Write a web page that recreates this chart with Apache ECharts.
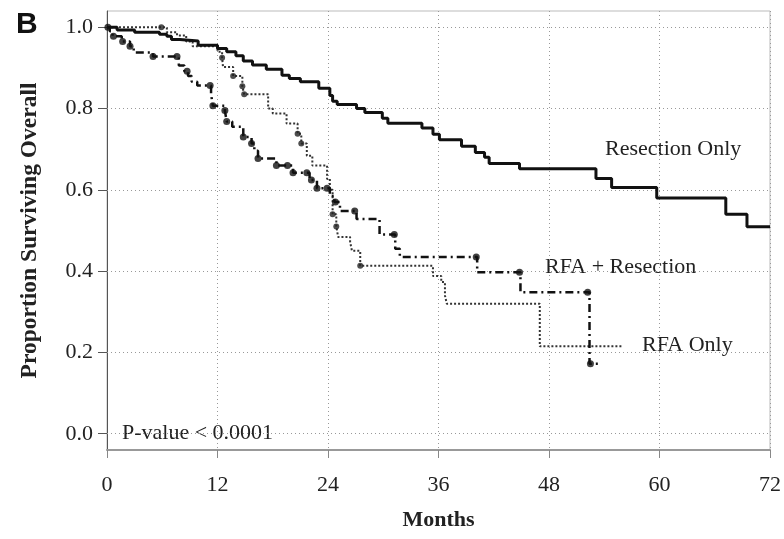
<!DOCTYPE html>
<html>
<head>
<meta charset="utf-8">
<title>Overall survival</title>
<script src="https://cdn.jsdelivr.net/npm/echarts@6/dist/echarts.min.js"></script>
<style>
  html, body { margin: 0; padding: 0; background: #fff; }
  #chart { width: 784px; height: 539px; }
</style>
</head>
<body>
<div id="chart"></div>
<script>
  // x 轴刻度（月）
  const monthTicks = [0, 12, 24, 36, 48, 60, 72]
  // y 轴刻度
  const survTicks = [0, 0.2, 0.4, 0.6, 0.8, 1.0]

  // Kaplan-Meier 曲线：[月, 生存率]
  const resectionOnly = [
    [0, 1.0], [1.1, 0.993], [3.0, 0.988], [5.7, 0.983], [6.5, 0.978], [7.0, 0.970],
    [7.9, 0.966], [9.9, 0.956], [12.0, 0.948], [13.0, 0.940], [14.0, 0.930], [14.8, 0.917],
    [15.8, 0.907], [17.3, 0.897], [19.0, 0.882], [19.8, 0.874], [21.0, 0.866], [23.0, 0.850],
    [24.2, 0.832], [24.5, 0.818], [25.0, 0.810], [27.1, 0.800], [28.0, 0.790], [29.9, 0.776],
    [30.5, 0.764], [34.2, 0.752], [35.4, 0.737], [36.1, 0.723], [38.5, 0.707], [40.0, 0.692],
    [41.0, 0.680], [41.5, 0.665], [44.8, 0.652], [53.1, 0.628], [54.8, 0.606], [59.7, 0.580],
    [67.2, 0.540], [69.5, 0.509], [72, 0.509]
  ]
  const rfaResection = [
    [0, 1.0], [0.3, 0.990], [0.6, 0.978], [1.6, 0.965], [2.5, 0.953], [2.9, 0.938],
    [5.0, 0.928], [7.8, 0.906], [8.4, 0.892], [8.8, 0.880], [9.2, 0.866], [9.8, 0.857],
    [11.3, 0.835], [11.5, 0.807], [12.8, 0.795], [13.0, 0.768], [13.6, 0.755], [14.8, 0.730],
    [15.7, 0.714], [16.0, 0.696], [16.4, 0.677], [18.4, 0.660], [20.2, 0.642], [22.0, 0.624],
    [22.8, 0.604], [24.2, 0.585], [24.7, 0.570], [25.3, 0.548], [27.1, 0.528], [29.6, 0.490],
    [31.3, 0.455], [31.8, 0.435], [40.2, 0.397], [44.9, 0.348], [52.4, 0.172], [53.7, 0.172]
  ]
  const rfaOnly = [
    [0, 1.0], [6.5, 0.988], [7.6, 0.980], [8.6, 0.965], [9.3, 0.953], [12.0, 0.940],
    [12.5, 0.925], [12.6, 0.902], [13.7, 0.880], [14.7, 0.855], [14.9, 0.835], [17.5, 0.800],
    [18.0, 0.788], [19.5, 0.763], [20.7, 0.738], [21.1, 0.714], [21.7, 0.684], [22.3, 0.660],
    [23.9, 0.627], [24.2, 0.600], [24.5, 0.540], [24.9, 0.510], [25.1, 0.484], [26.4, 0.472],
    [26.6, 0.450], [27.5, 0.413], [35.4, 0.388], [36.3, 0.373], [36.7, 0.340], [36.9, 0.320],
    [47.0, 0.215], [56.0, 0.215]
  ]

  // 删失点（月）
  const rfaResectionCensor = [0.1, 0.7, 1.7, 2.5, 5.0, 7.6, 8.7, 11.2, 11.5, 12.8, 13.0, 14.8,
    15.7, 16.4, 18.4, 19.6, 20.2, 21.7, 22.2, 22.8, 23.9, 24.8, 26.9, 31.2, 40.1, 44.8, 52.2, 52.5]
  const rfaOnlyCensor = [5.9, 12.5, 13.7, 14.7, 14.9, 20.7, 21.1, 24.5, 24.9, 27.5]

  // 取某时刻曲线上的值
  function stepAt(curve, t) {
    let v = curve[0][1]
    for (const [x, y] of curve) {
      if (x <= t) v = y
    }
    return v
  }

  const serif = 'Liberation Serif'
  const chart = echarts.init(document.getElementById('chart'))

  const option = {
    animation: false,
    grid: {
      left: 107, right: 13, top: 11, bottom: 89,
      show: true, borderColor: '#bbb', borderWidth: 1
    },
    xAxis: {
      type: 'value',
      min: 0, max: 72, interval: 12,
      name: 'Months',
      nameLocation: 'middle',
      nameGap: 59,
      nameMoveOverlap: false,
      nameTextStyle: { fontFamily: serif, fontWeight: 'bold', fontSize: 22, color: '#222' },
      axisLine: { onZero: false, lineStyle: { color: '#999', width: 2 } },
      axisTick: { length: 8, lineStyle: { color: '#888' } },
      axisLabel: { margin: 24, fontFamily: serif, fontSize: 22, color: '#222' },
      splitLine: { show: true, lineStyle: { type: [1, 3], color: '#999' } }
    },
    yAxis: {
      type: 'value',
      min: -0.04, max: 1.04,
      name: 'Proportion Surviving Overall',
      nameLocation: 'middle',
      nameGap: 65,
      nameMoveOverlap: false,
      nameTextStyle: { fontFamily: serif, fontWeight: 'bold', fontSize: 23.5, color: '#222' },
      axisLine: { show: true, lineStyle: { color: '#555', width: 1 } },
      axisTick: { show: true, length: 9, customValues: survTicks, lineStyle: { color: '#555' } },
      axisLabel: {
        margin: 14, fontFamily: serif, fontSize: 22, color: '#222',
        customValues: survTicks,
        formatter: v => v.toFixed(1)
      },
      splitLine: { show: false }
    },
    graphic: [
      { type: 'text', left: 16, top: 10, style: { text: 'B', fontFamily: 'Liberation Sans', fontWeight: 'bold', fontSize: 30, fill: '#111' } },
      { type: 'text', left: 605, top: 138, style: { text: 'Resection Only', fontFamily: serif, fontSize: 22, fill: '#222' } },
      { type: 'text', left: 545, top: 256, style: { text: 'RFA + Resection', fontFamily: serif, fontSize: 22, fill: '#222' } },
      { type: 'text', left: 642, top: 334, style: { text: 'RFA Only', fontFamily: serif, fontSize: 22, fill: '#222' } },
      { type: 'text', left: 122, top: 422, style: { text: 'P-value < 0.0001', fontFamily: serif, fontSize: 22, fill: '#222' } }
    ],
    series: [
      {
        name: 'Resection Only',
        type: 'line',
        step: 'end',
        showSymbol: false,
        data: resectionOnly,
        lineStyle: { color: '#111', width: 3 },
        z: 4,
        // 水平网格线
        markLine: {
          silent: true,
          symbol: 'none',
          label: { show: false },
          lineStyle: { type: [1, 3], color: '#999', width: 1 },
          data: survTicks.map(v => ({ yAxis: v })),
          z: 1
        }
      },
      {
        name: 'RFA + Resection',
        type: 'line',
        step: 'end',
        showSymbol: false,
        data: rfaResection,
        lineStyle: { color: '#111', width: 2.5, type: [8, 4, 2, 4] },
        z: 3
      },
      {
        name: 'RFA Only',
        type: 'line',
        step: 'end',
        showSymbol: false,
        data: rfaOnly,
        lineStyle: { color: '#333', width: 2, type: [2, 2] },
        z: 2
      },
      {
        type: 'scatter',
        symbol: 'circle',
        symbolSize: 7,
        itemStyle: { color: '#111' },
        data: rfaResectionCensor.map(t => [t, stepAt(rfaResection, t)]),
        z: 5
      },
      {
        type: 'scatter',
        symbol: 'circle',
        symbolSize: 6,
        itemStyle: { color: '#222' },
        data: rfaOnlyCensor.map(t => [t, stepAt(rfaOnly, t)]),
        z: 5
      }
    ]
  }

  chart.setOption(option)
</script>
</body>
</html>
